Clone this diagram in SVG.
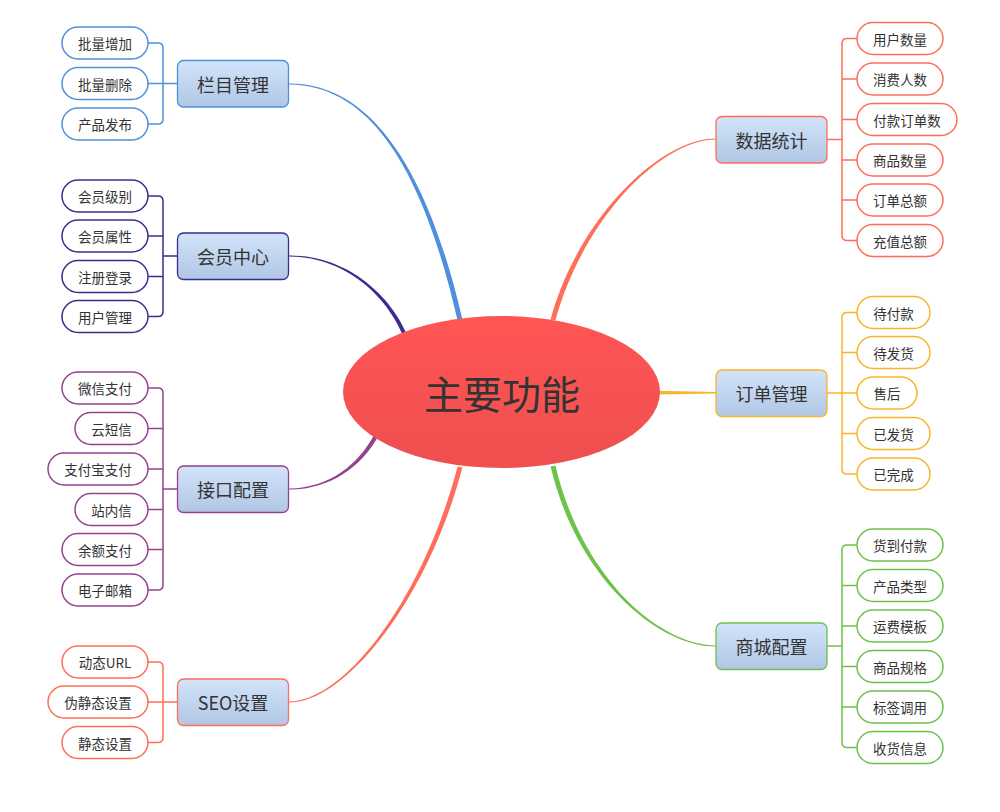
<svg xmlns="http://www.w3.org/2000/svg" width="1000" height="812" viewBox="0 0 1000 812">
<defs>
<linearGradient id="boxg" x1="0" y1="0" x2="0" y2="1"><stop offset="0" stop-color="#d2e4fa"/><stop offset="1" stop-color="#b0c6e4"/></linearGradient>
<linearGradient id="elg" x1="0" y1="0" x2="0" y2="1"><stop offset="0" stop-color="#ff5555"/><stop offset="1" stop-color="#ef4f4f"/></linearGradient>
<style>
.pill{fill:#fff;stroke-width:1.5}
.box{fill:url(#boxg);stroke-width:1.3}
.t{font-family:"Noto Sans CJK SC","Noto Sans",sans-serif;font-size:13.5px;fill:#333;text-anchor:middle;dominant-baseline:central}
.tb{font-size:18px}
.tm{font-size:39px}
.ln{fill:none;stroke-width:1.5}
.blue{stroke:#4f8fdc}.bluef{fill:#4f8fdc}
.ind{stroke:#3b2d8f}.indf{fill:#3b2d8f}
.mag{stroke:#94428f}.magf{fill:#94428f}
.sal{stroke:#ff6e5a}.salf{fill:#ff6e5a}
.org{stroke:#f7b52a}.orgf{fill:#f7b52a}
.grn{stroke:#6cc24a}.grnf{fill:#6cc24a}
</style>
</defs>
<rect width="1000" height="812" fill="#fff"/>
<g id="connectors">
<path class="bluef" d="M462.4,319.4 C432.4,189.4 380,83 289,83.5 L289,84.5 C380,85 427.6,190.6 457.6,320.6 Z"/>
<path class="indf" d="M405.8,332.2 C391.8,299.2 350,255 289,255.5 L289,256.5 C350,257 388.2,300.8 402.2,333.8 Z"/>
<path class="magf" d="M374.2,435 C358.2,464 330,488 289,488.5 L289,489.5 C330,490 361.8,466 377.8,437 Z"/>
<path class="salf" d="M457.6,466.4 C422.6,599.4 345,701 289,701.5 L289,702.5 C345,703 427.4,600.6 462.4,467.6 Z"/>
<path class="salf" d="M555.4,320.6 C582.4,220.6 660,140 716,139.5 L716,138.5 C660,138 577.6,219.4 550.6,319.4 Z"/>
<path class="orgf" d="M655,390.8 L716,392 L716,393.5 L655,394.5 Z"/>
<path class="grnf" d="M550.6,466.6 C577.6,580.6 660,647 716,646.5 L716,645.5 C660,645 582.4,579.4 555.4,465.4 Z"/>
<path class="ln blue" d="M148,43 H158 Q163,43 163,48 V119 Q163,124 158,124 H148 M148,83.5 H177.5"/>
<path class="ln ind" d="M148,196 H158 Q163,196 163,201 V311.5 Q163,316.5 158,316.5 H148 M148,236 H163 M148,276.5 H163 M163,256 H177.5"/>
<path class="ln mag" d="M148,388 H158 Q163,388 163,393 V585 Q163,590 158,590 H148 M148,428.5 H163 M148,469 H163 M148,509.5 H163 M148,549.5 H163 M163,489 H177.5"/>
<path class="ln sal" d="M148,662 H158 Q163,662 163,667 V737.5 Q163,742.5 158,742.5 H148 M148,702 H177.5"/>
<path class="ln sal" d="M857,38.5 H847 Q842,38.5 842,43.5 V235.5 Q842,240.5 847,240.5 H857 M857,79 H842 M857,119.5 H842 M857,160 H842 M857,200 H842 M842,139.5 H827"/>
<path class="ln org" d="M857,312.5 H847 Q842,312.5 842,317.5 V469 Q842,474 847,474 H857 M857,352.5 H842 M857,433.5 H842 M857,393 H827"/>
<path class="ln grn" d="M857,545 H847 Q842,545 842,550 V742.5 Q842,747.5 847,747.5 H857 M857,585.5 H842 M857,626 H842 M857,666.5 H842 M857,707 H842 M842,646 H827"/>
</g>
<g id="center"><ellipse cx="501.5" cy="392" rx="158.5" ry="76" fill="url(#elg)"/><text class="t tm" x="502" y="392">主要功能</text></g>

<g id="lanmu"><rect class="box blue" x="177.5" y="60.5" width="111" height="46.5" rx="6"/><text class="t tb" x="233" y="84">栏目管理</text></g>
<g id="lanmu-1"><rect class="pill blue" x="62" y="27" width="86" height="32" rx="16"/><text class="t" x="105" y="43">批量增加</text></g>
<g id="lanmu-2"><rect class="pill blue" x="62" y="67.5" width="86" height="32" rx="16"/><text class="t" x="105" y="83.5">批量删除</text></g>
<g id="lanmu-3"><rect class="pill blue" x="62" y="108" width="86" height="32" rx="16"/><text class="t" x="105" y="124">产品发布</text></g>

<g id="huiyuan"><rect class="box ind" x="177.5" y="233" width="111" height="46.5" rx="6"/><text class="t tb" x="233" y="256">会员中心</text></g>
<g id="huiyuan-1"><rect class="pill ind" x="62" y="180" width="86" height="32" rx="16"/><text class="t" x="105" y="196">会员级别</text></g>
<g id="huiyuan-2"><rect class="pill ind" x="62" y="220" width="86" height="32" rx="16"/><text class="t" x="105" y="236">会员属性</text></g>
<g id="huiyuan-3"><rect class="pill ind" x="62" y="260.5" width="86" height="32" rx="16"/><text class="t" x="105" y="276.5">注册登录</text></g>
<g id="huiyuan-4"><rect class="pill ind" x="62" y="300.5" width="86" height="32" rx="16"/><text class="t" x="105" y="316.5">用户管理</text></g>

<g id="jiekou"><rect class="box mag" x="177.5" y="466" width="111" height="46.5" rx="6"/><text class="t tb" x="233" y="489">接口配置</text></g>
<g id="jiekou-1"><rect class="pill mag" x="62" y="372" width="86" height="32" rx="16"/><text class="t" x="105" y="388">微信支付</text></g>
<g id="jiekou-2"><rect class="pill mag" x="75" y="412.5" width="73" height="32" rx="16"/><text class="t" x="111.5" y="428.5">云短信</text></g>
<g id="jiekou-3"><rect class="pill mag" x="48" y="453" width="100" height="32" rx="16"/><text class="t" x="98" y="469">支付宝支付</text></g>
<g id="jiekou-4"><rect class="pill mag" x="75" y="493.5" width="73" height="32" rx="16"/><text class="t" x="111.5" y="509.5">站内信</text></g>
<g id="jiekou-5"><rect class="pill mag" x="62" y="533.5" width="86" height="32" rx="16"/><text class="t" x="105" y="549.5">余额支付</text></g>
<g id="jiekou-6"><rect class="pill mag" x="62" y="574" width="86" height="32" rx="16"/><text class="t" x="105" y="590">电子邮箱</text></g>

<g id="seo"><rect class="box sal" x="177.5" y="679" width="111" height="46.5" rx="6"/><text class="t tb" x="233" y="702">SEO设置</text></g>
<g id="seo-1"><rect class="pill sal" x="62" y="646" width="86" height="32" rx="16"/><text class="t" x="105" y="662">动态URL</text></g>
<g id="seo-2"><rect class="pill sal" x="48" y="686" width="100" height="32" rx="16"/><text class="t" x="98" y="702">伪静态设置</text></g>
<g id="seo-3"><rect class="pill sal" x="62" y="726.5" width="86" height="32" rx="16"/><text class="t" x="105" y="742.5">静态设置</text></g>

<g id="shuju"><rect class="box sal" x="716" y="116.5" width="111" height="46.5" rx="6"/><text class="t tb" x="771.5" y="139.5">数据统计</text></g>
<g id="shuju-1"><rect class="pill sal" x="857" y="22.5" width="86" height="32" rx="16"/><text class="t" x="900" y="38.5">用户数量</text></g>
<g id="shuju-2"><rect class="pill sal" x="857" y="63" width="86" height="32" rx="16"/><text class="t" x="900" y="79">消费人数</text></g>
<g id="shuju-3"><rect class="pill sal" x="857" y="103.5" width="100" height="32" rx="16"/><text class="t" x="907" y="119.5">付款订单数</text></g>
<g id="shuju-4"><rect class="pill sal" x="857" y="144" width="86" height="32" rx="16"/><text class="t" x="900" y="160">商品数量</text></g>
<g id="shuju-5"><rect class="pill sal" x="857" y="184" width="86" height="32" rx="16"/><text class="t" x="900" y="200">订单总额</text></g>
<g id="shuju-6"><rect class="pill sal" x="857" y="224.5" width="86" height="32" rx="16"/><text class="t" x="900" y="240.5">充值总额</text></g>

<g id="dingdan"><rect class="box org" x="716" y="370" width="111" height="46.5" rx="6"/><text class="t tb" x="771.5" y="393">订单管理</text></g>
<g id="dingdan-1"><rect class="pill org" x="857" y="296.5" width="73" height="32" rx="16"/><text class="t" x="893.5" y="312.5">待付款</text></g>
<g id="dingdan-2"><rect class="pill org" x="857" y="336.5" width="73" height="32" rx="16"/><text class="t" x="893.5" y="352.5">待发货</text></g>
<g id="dingdan-3"><rect class="pill org" x="857" y="377" width="60" height="32" rx="16"/><text class="t" x="887" y="393">售后</text></g>
<g id="dingdan-4"><rect class="pill org" x="857" y="417.5" width="73" height="32" rx="16"/><text class="t" x="893.5" y="433.5">已发货</text></g>
<g id="dingdan-5"><rect class="pill org" x="857" y="458" width="73" height="32" rx="16"/><text class="t" x="893.5" y="474">已完成</text></g>

<g id="shangcheng"><rect class="box grn" x="716" y="623" width="111" height="46.5" rx="6"/><text class="t tb" x="771.5" y="646">商城配置</text></g>
<g id="shangcheng-1"><rect class="pill grn" x="857" y="529" width="86" height="32" rx="16"/><text class="t" x="900" y="545">货到付款</text></g>
<g id="shangcheng-2"><rect class="pill grn" x="857" y="569.5" width="86" height="32" rx="16"/><text class="t" x="900" y="585.5">产品类型</text></g>
<g id="shangcheng-3"><rect class="pill grn" x="857" y="610" width="86" height="32" rx="16"/><text class="t" x="900" y="626">运费模板</text></g>
<g id="shangcheng-4"><rect class="pill grn" x="857" y="650.5" width="86" height="32" rx="16"/><text class="t" x="900" y="666.5">商品规格</text></g>
<g id="shangcheng-5"><rect class="pill grn" x="857" y="691" width="86" height="32" rx="16"/><text class="t" x="900" y="707">标签调用</text></g>
<g id="shangcheng-6"><rect class="pill grn" x="857" y="731.5" width="86" height="32" rx="16"/><text class="t" x="900" y="747.5">收货信息</text></g>
</svg>
